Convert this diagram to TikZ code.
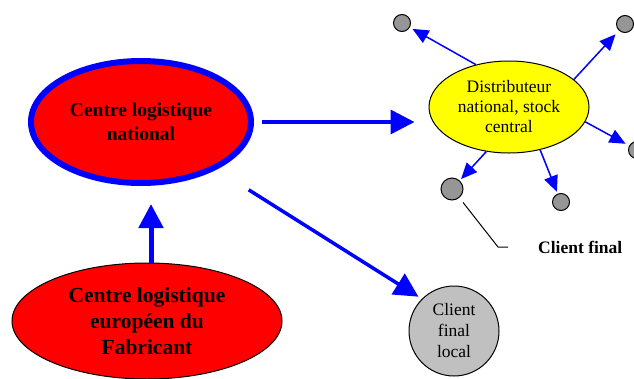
\documentclass[tikz,border=0pt]{standalone}
\usepackage{fontspec}
\setmainfont{Liberation Serif}
\usetikzlibrary{shapes.geometric,arrows.meta}
\definecolor{pblue}{RGB}{0,0,255}
\definecolor{pred}{RGB}{255,0,0}
\definecolor{pyellow}{RGB}{255,255,0}
\definecolor{pgrayd}{RGB}{150,150,150}
\definecolor{pgrayl}{RGB}{192,192,192}
\tikzset{
  redell/.style={ellipse, fill=pred, inner sep=0pt, align=center, font=\bfseries},
  smallc/.style={circle, draw=black, line width=1pt, fill=pgrayd, inner sep=0pt},
  bigarrow/.style={draw=pblue, -{Triangle[length=24pt,width=24pt]}},
  thinarrow/.style={draw=pblue, line width=1.5pt, -{Triangle[length=16pt,width=14pt]}},
}
\begin{document}
\begin{tikzpicture}[x=1pt,y=-1pt]
\clip (0,0) rectangle (634,378);
\fill[white] (0,0) rectangle (634,378);
% main nodes
\node[redell, draw=pblue, line width=6pt, minimum width=220pt, minimum height=122pt,
      font=\bfseries\fontsize{19.5}{24}\selectfont] (natl) at (141,122)
      {Centre logistique\\national};
\node[redell, draw=black, line width=1pt, minimum width=270pt, minimum height=116pt,
      font=\bfseries\fontsize{21.5}{26}\selectfont] (eur) at (147,321)
      {Centre logistique\\européen du\\Fabricant};
\node[ellipse, draw=black, line width=1pt, fill=pyellow, minimum width=160pt, minimum height=92pt,
      inner sep=0pt, align=center, font=\fontsize{17.5}{20}\selectfont] (dist) at (509,107)
      {Distributeur\\national, stock\\central};
\node[circle, draw=black, line width=1pt, fill=pgrayl, minimum size=90pt, inner sep=0pt,
      align=center, font=\fontsize{17.5}{21}\selectfont] (local) at (454,331)
      {Client\\final\\local};
% small client circles
\node[smallc, minimum size=17pt] (s1) at (402,23) {};
\node[smallc, minimum size=17pt] (s2) at (625,24) {};
\node[smallc, minimum size=17pt] (s3) at (637,150) {};
\node[smallc, minimum size=22pt] (s4) at (452,189) {};
\node[smallc, minimum size=17pt] (s5) at (561,202) {};
\node[font=\bfseries\fontsize{17.5}{20}\selectfont, anchor=west, inner sep=0pt] (cf) at (538,247) {Client final};
% big arrows
\draw[bigarrow, line width=3.5pt, shorten <=8pt, shorten >=14pt] (natl.east) -- (dist.west |- natl.east);
\draw[bigarrow, line width=5pt, shorten >=18pt] (eur.north -| 151,0) -- (natl.south -| 151,0);
\draw[bigarrow, line width=3.5pt, shorten <=38pt, shorten >=4pt] (natl) -- (local.135);
% thin arrows
\draw[thinarrow, shorten >=3pt] (dist.128) -- (s1);
\draw[thinarrow, shorten >=5pt] (dist.23) -- (s2);
\draw[thinarrow, shorten >=4pt] (dist.-11) -- (s3);
\draw[thinarrow, shorten >=2pt] (dist.-117) -- (s4);
\draw[thinarrow, shorten >=2pt] (dist.-54) -- (s5);
% label line
\coordinate (k1) at (498,247);
\coordinate (k2) at (508,247);
\draw[black, line width=1pt, shorten <=6pt] (s4.-50) -- (k1) -- (k2);
\end{tikzpicture}
\end{document}
